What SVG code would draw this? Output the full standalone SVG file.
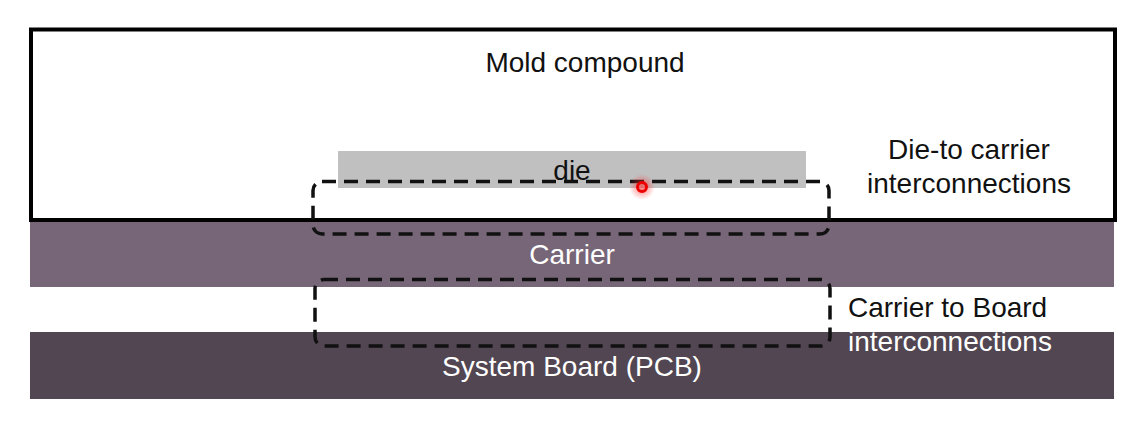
<svg xmlns="http://www.w3.org/2000/svg" width="1145" height="436" viewBox="0 0 1145 436">
<style>
.t{font-family:"Liberation Sans",Arial,sans-serif;font-size:28px;fill:#111}
.w{fill:#fff}
.dash{fill:none;stroke:#111;stroke-width:3.5;stroke-dasharray:14 8}
</style>
<defs>
<radialGradient id="glow"><stop offset="0" stop-color="#ff3030" stop-opacity="0.65"/><stop offset="1" stop-color="#ff3030" stop-opacity="0"/></radialGradient>
</defs>
<rect width="1145" height="436" fill="#fff"/>
<g id="board"><rect x="30" y="332" width="1084" height="67" fill="#524652"/><text class="t w" x="572" y="376" text-anchor="middle">System Board (PCB)</text></g>
<g id="carrier"><rect x="30" y="221" width="1084" height="66" fill="#776677"/><text class="t w" x="572" y="264" text-anchor="middle">Carrier</text></g>
<g id="mold"><rect x="31" y="29.5" width="1084" height="190.5" fill="none" stroke="#000" stroke-width="4"/><text class="t" x="585" y="72" text-anchor="middle">Mold compound</text></g>
<g id="die"><rect x="338" y="151" width="468" height="37" fill="#c0c0c0"/><text class="t" x="572" y="180" text-anchor="middle">die</text></g>
<g id="connectors">
<rect class="dash" x="313" y="181.5" width="516" height="52.5" rx="9"/>
<rect class="dash" x="315" y="279.5" width="515" height="66.5" rx="9"/>
</g>
<g id="label-die-carrier"><text class="t" x="969" y="159" text-anchor="middle">Die-to carrier</text><text class="t" x="969" y="193" text-anchor="middle">interconnections</text></g>
<g id="label-carrier-board"><text class="t" x="848" y="317">Carrier to Board</text><text class="t w" x="848" y="351">interconnections</text></g>
<g id="pointer"><circle cx="642" cy="187" r="13" fill="url(#glow)"/><circle cx="642" cy="187" r="4.5" fill="none" stroke="#ee0000" stroke-width="3"/></g>
</svg>
